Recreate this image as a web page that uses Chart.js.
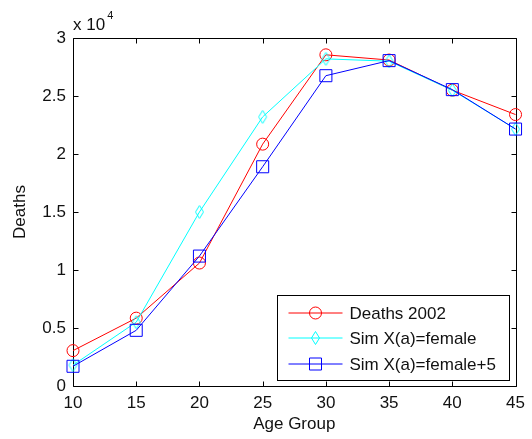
<!DOCTYPE html>
<html>
<head>
<meta charset="utf-8">
<script src="https://cdn.jsdelivr.net/npm/chart.js@4/dist/chart.umd.min.js"></script>
<style>
  body { margin: 0; background: #fff; }
  canvas { display: block; }
</style>
</head>
<body>
<canvas id="deathsChart" width="532" height="439"></canvas>
<script>
const ageGroups = [10, 15, 20, 25, 30, 35, 40, 45];
const deaths2002 = [3050, 5850, 10600, 20850, 28550, 28100, 25500, 23400];
const simFemale = [1800, 5500, 15000, 23200, 28200, 28000, 25500, 22150];
const simFemalePlus5 = [1700, 4800, 11200, 18900, 26750, 28050, 25550, 22150];
const yTicks = [0, 5000, 10000, 15000, 20000, 25000, 30000];

const FONT = "'Liberation Sans', Arial, sans-serif";
const TEXT = "#111";

// narrow diamond marker, like matlab's 'd'
function diamondMarker(color) {
  const c = document.createElement("canvas");
  c.width = 11;
  c.height = 15;
  const g = c.getContext("2d");
  g.strokeStyle = color;
  g.lineWidth = 1;
  g.beginPath();
  g.moveTo(5.5, 1);
  g.lineTo(9.5, 7.5);
  g.lineTo(5.5, 14);
  g.lineTo(1.5, 7.5);
  g.closePath();
  g.stroke();
  return c;
}

const series = [
  { label: "Deaths 2002", data: deaths2002, color: "#ff0000", marker: "circle", order: 2 },
  { label: "Sim X(a)=female", data: simFemale, color: "#00ffff", marker: "diamond", order: 1 },
  { label: "Sim X(a)=female+5", data: simFemalePlus5, color: "#0000ff", marker: "square", order: 0 },
];

function drawMarker(ctx, kind, x, y, color) {
  ctx.save();
  ctx.strokeStyle = color;
  ctx.lineWidth = 1;
  ctx.beginPath();
  if (kind === "circle") {
    ctx.arc(x, y, 6, 0, Math.PI * 2);
  } else if (kind === "diamond") {
    ctx.moveTo(x, y - 6.5);
    ctx.lineTo(x + 4, y);
    ctx.lineTo(x, y + 6.5);
    ctx.lineTo(x - 4, y);
    ctx.closePath();
  } else {
    ctx.rect(x - 6, y - 6, 12, 12);
  }
  ctx.stroke();
  ctx.restore();
}

// box around the axes with inward tick marks on all four sides
const axesBox = {
  id: "axesBox",
  beforeDatasetsDraw(chart) {
    const { ctx, chartArea: a, scales } = chart;
    const L = Math.round(a.left) + 0.5, R = Math.round(a.right) + 0.5;
    const T = Math.round(a.top) + 0.5, B = Math.round(a.bottom) + 0.5;
    const len = 5;
    ctx.save();
    ctx.strokeStyle = "#000";
    ctx.lineWidth = 1;
    ctx.beginPath();
    ctx.rect(L, T, R - L, B - T);
    scales.x.ticks.forEach(t => {
      const px = Math.round(scales.x.getPixelForValue(t.value)) + 0.5;
      ctx.moveTo(px, B); ctx.lineTo(px, B - len);
      ctx.moveTo(px, T); ctx.lineTo(px, T + len);
    });
    scales.y.ticks.forEach(t => {
      const py = Math.round(scales.y.getPixelForValue(t.value)) + 0.5;
      ctx.moveTo(L, py); ctx.lineTo(L + len, py);
      ctx.moveTo(R, py); ctx.lineTo(R - len, py);
    });
    ctx.stroke();
    ctx.restore();
  },
  afterDraw(chart) {
    const { ctx, chartArea: a } = chart;
    ctx.save();
    ctx.fillStyle = TEXT;
    ctx.textBaseline = "alphabetic";
    ctx.font = "17px " + FONT;
    ctx.fillText("x 10", a.left, a.top - 8);
    const w = ctx.measureText("x 10").width;
    ctx.font = "11px " + FONT;
    ctx.fillText("4", a.left + w + 2, a.top - 19);
    ctx.restore();
  }
};

const legendBox = {
  id: "legendBox",
  afterDatasetsDraw(chart) {
    const { ctx, chartArea: a } = chart;
    const w = 232, h = 85;
    const x = Math.round(a.right - 7 - w) + 0.5;
    const y = Math.round(a.bottom - 6 - h) + 0.5;
    ctx.save();
    ctx.fillStyle = "#fff";
    ctx.fillRect(x, y, w, h);
    ctx.strokeStyle = "#000";
    ctx.lineWidth = 1;
    ctx.strokeRect(x, y, w, h);
    ctx.font = "17px " + FONT;
    ctx.textBaseline = "middle";
    series.forEach((s, i) => {
      const ry = Math.round(y + 17 + i * 25.5);
      ctx.strokeStyle = s.color;
      ctx.beginPath();
      ctx.moveTo(x + 11, ry);
      ctx.lineTo(x + 65, ry);
      ctx.stroke();
      drawMarker(ctx, s.marker, x + 38, ry, s.color);
      ctx.fillStyle = TEXT;
      ctx.fillText(s.label, x + 72, ry + 1);
    });
    ctx.restore();
  }
};

const diamond = diamondMarker("#00ffff");

new Chart(document.getElementById("deathsChart"), {
  type: "line",
  data: {
    datasets: series.map(s => ({
      label: s.label,
      data: ageGroups.map((a, i) => ({ x: a, y: s.data[i] })),
      borderColor: s.color,
      borderWidth: 1,
      tension: 0,
      order: s.order,
      clip: false,
      pointStyle: s.marker === "circle" ? "circle" : s.marker === "square" ? "rect" : diamond,
      pointRadius: s.marker === "square" ? 8.5 : 6,
      pointBorderColor: s.color,
      pointBackgroundColor: "rgba(0,0,0,0)",
      pointBorderWidth: 1,
    })),
  },
  options: {
    responsive: false,
    animation: false,
    layout: { padding: { top: 38, right: 10, left: 0, bottom: 0 } },
    plugins: {
      legend: { display: false },
      tooltip: { enabled: false },
    },
    scales: {
      x: {
        type: "linear",
        min: 10,
        max: 45,
        afterBuildTicks: s => { s.ticks = ageGroups.map(v => ({ value: v })); },
        afterFit: s => { s.height = 53; },
        grid: { display: false, drawTicks: false },
        border: { display: false },
        ticks: { color: TEXT, font: { family: FONT, size: 17 }, padding: 7, maxRotation: 0 },
        title: { display: true, text: "Age Group", color: TEXT, font: { family: FONT, size: 17 }, padding: { top: 0, bottom: 4 } },
      },
      y: {
        min: 0,
        max: 30000,
        afterBuildTicks: s => { s.ticks = yTicks.map(v => ({ value: v })); },
        afterFit: s => { s.width = 73; },
        grid: { display: false, drawTicks: false },
        border: { display: false },
        ticks: { color: TEXT, font: { family: FONT, size: 17 }, padding: 7, callback: v => String(v / 10000) },
        title: { display: true, text: "Deaths", color: TEXT, font: { family: FONT, size: 17 }, padding: { top: 10, bottom: 0 } },
      },
    },
  },
  plugins: [axesBox, legendBox],
});
</script>
</body>
</html>
